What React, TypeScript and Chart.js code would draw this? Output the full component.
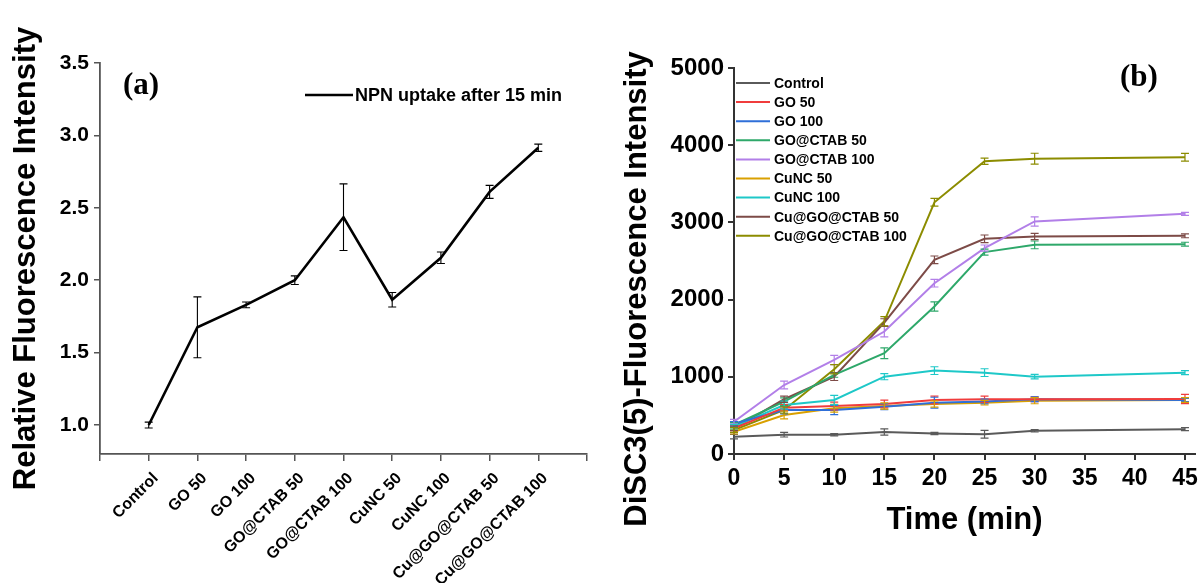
import React, { useEffect, useRef } from 'react';
import { Chart, registerables } from 'chart.js';

Chart.register(...registerables);

const SANS = '"Liberation Sans", Arial, sans-serif';
const SERIF = '"Liberation Serif", "Times New Roman", serif';

// ---------- Panel (a) data ----------
const npnCategories = ['Control', 'GO 50', 'GO 100', 'GO@CTAB 50', 'GO@CTAB 100', 'CuNC 50', 'CuNC 100', 'Cu@GO@CTAB 50', 'Cu@GO@CTAB 100'];
const npnValues = [1.0, 1.675, 1.83, 2.0, 2.435, 1.865, 2.155, 2.61, 2.915];
const npnErrors = [0.02, 0.21, 0.02, 0.03, 0.23, 0.05, 0.04, 0.045, 0.025];
const npnLabel = 'NPN uptake after 15 min';
const npnYTitle = 'Relative Fluorescence Intensity';

// ---------- Panel (b) data ----------
const timePoints = [0, 5, 10, 15, 20, 25, 30, 45];
const seriesNames = ['Control', 'GO 50', 'GO 100', 'GO@CTAB 50', 'GO@CTAB 100', 'CuNC 50', 'CuNC 100', 'Cu@GO@CTAB 50', 'Cu@GO@CTAB 100'];
const seriesColors = ['#5a5a5a', '#f03c3c', '#2f6fd8', '#2ea86a', '#b27fe8', '#d9a000', '#1ec8c8', '#7d4b47', '#8c8c00'];

const controlVals = [225, 250, 250, 285, 265, 255, 300, 322];
const controlErr = [30, 30, 15, 40, 15, 50, 15, 20];
const go50Vals = [333, 600, 622, 648, 700, 709, 709, 713];
const go50Err = [30, 40, 50, 50, 50, 40, 30, 60];
const go100Vals = [390, 570, 570, 613, 665, 680, 709, 700];
const go100Err = [30, 50, 60, 40, 70, 30, 30, 20];
const goCtab50Vals = [376, 678, 1024, 1305, 1910, 2615, 2709, 2718];
const goCtab50Err = [30, 50, 30, 70, 60, 40, 50, 25];
const goCtab100Vals = [419, 894, 1218, 1586, 2213, 2667, 3012, 3111];
const goCtab100Err = [30, 50, 60, 70, 50, 40, 60, 20];
const cuNc50Vals = [289, 505, 592, 622, 648, 665, 691, 700];
const cuNc50Err = [30, 50, 50, 40, 40, 30, 40, 30];
const cuNc100Vals = [354, 635, 700, 1002, 1080, 1054, 1002, 1054];
const cuNc100Err = [30, 50, 60, 40, 50, 50, 30, 25];
const cuGoCtab50Vals = [333, 709, 1002, 1702, 2515, 2787, 2817, 2826];
const cuGoCtab50Err = [30, 40, 50, 50, 50, 50, 40, 25];
const cuGoCtab100Vals = [311, 570, 1098, 1719, 3260, 3792, 3826, 3843];
const cuGoCtab100Err = [30, 40, 60, 60, 50, 40, 70, 50];

const seriesValues = [controlVals, go50Vals, go100Vals, goCtab50Vals, goCtab100Vals, cuNc50Vals, cuNc100Vals, cuGoCtab50Vals, cuGoCtab100Vals];
const seriesErrors = [controlErr, go50Err, go100Err, goCtab50Err, goCtab100Err, cuNc50Err, cuNc100Err, cuGoCtab50Err, cuGoCtab100Err];
const dyeYTitle = 'DiSC3(5)-Fluorescence Intensity';
const dyeXTitle = 'Time (min)';

// ---------- plugins ----------
const errorBarPlugin = {
  id: 'errorBars',
  afterDatasetsDraw(chart: any, _args: any, opts: any) {
    const ctx = chart.ctx;
    const yScale = chart.scales.y;
    chart.data.datasets.forEach((ds: any, di: number) => {
      const meta = chart.getDatasetMeta(di);
      if (!ds.errorBars) return;
      ctx.save();
      ctx.strokeStyle = ds.errorColor || ds.borderColor;
      ctx.lineWidth = opts.lineWidth || 1.2;
      const cap = opts.cap || 4;
      meta.data.forEach((pt: any, i: number) => {
        const v = ds.data[i].y;
        const e = ds.errorBars[i];
        const x = pt.x;
        const yt = yScale.getPixelForValue(v + e);
        const yb = yScale.getPixelForValue(v - e);
        ctx.beginPath();
        ctx.moveTo(x, yt);
        ctx.lineTo(x, yb);
        ctx.moveTo(x - cap, yt);
        ctx.lineTo(x + cap, yt);
        ctx.moveTo(x - cap, yb);
        ctx.lineTo(x + cap, yb);
        ctx.stroke();
      });
      ctx.restore();
    });
  },
};

const customLegendPlugin = {
  id: 'customLegend',
  afterDraw(chart: any, _args: any, opts: any) {
    const ctx = chart.ctx;
    ctx.save();
    ctx.font = `bold ${opts.fontSize}px ${SANS}`;
    ctx.textBaseline = 'middle';
    ctx.textAlign = 'left';
    chart.data.datasets.forEach((ds: any, i: number) => {
      const y = opts.y + i * opts.rowHeight;
      ctx.strokeStyle = ds.borderColor;
      ctx.lineWidth = opts.lineWidth;
      ctx.beginPath();
      ctx.moveTo(opts.x, y);
      ctx.lineTo(opts.x + opts.lineLength, y);
      ctx.stroke();
      ctx.fillStyle = '#000';
      ctx.fillText(ds.label, opts.x + opts.lineLength + opts.gap, y + 1);
    });
    ctx.restore();
  },
};

const panelLabelPlugin = {
  id: 'panelLabel',
  afterDraw(chart: any, _args: any, opts: any) {
    const ctx = chart.ctx;
    ctx.save();
    ctx.font = `bold ${opts.fontSize}px ${SERIF}`;
    ctx.fillStyle = '#000';
    ctx.textBaseline = 'alphabetic';
    ctx.textAlign = 'left';
    ctx.fillText(opts.text, opts.x, opts.y);
    ctx.restore();
  },
};

const sideTitlePlugin = {
  id: 'sideTitle',
  afterDraw(chart: any, _args: any, opts: any) {
    if (!opts || !opts.text) return;
    const ctx = chart.ctx;
    ctx.save();
    ctx.font = `bold ${opts.fontSize}px ${SANS}`;
    ctx.fillStyle = '#000';
    ctx.textBaseline = 'middle';
    ctx.textAlign = 'center';
    ctx.translate(opts.x, opts.y);
    ctx.rotate(-Math.PI / 2);
    ctx.fillText(opts.text, 0, 0);
    ctx.restore();
  },
};

function PanelA() {
  const ref = useRef<HTMLCanvasElement>(null);
  useEffect(() => {
    const axisColor = '#555';
    const chart = new Chart(ref.current as HTMLCanvasElement, {
      type: 'line',
      data: {
        datasets: [
          {
            label: npnLabel,
            data: npnValues.map((v, i) => ({ x: i + 1, y: v })),
            borderColor: '#000',
            backgroundColor: '#000',
            borderWidth: 2.6,
            pointRadius: 0,
            tension: 0,
            errorBars: npnErrors,
            errorColor: '#000',
          } as any,
        ],
      },
      options: {
        animation: false,
        responsive: false,
        layout: { padding: { top: 63, right: 13, bottom: 0, left: 0 } },
        plugins: {
          legend: { display: false },
          tooltip: { enabled: false },
          errorBars: { lineWidth: 1.1, cap: 4 },
          customLegend: { x: 305, y: 95, lineLength: 48, gap: 2, rowHeight: 20, fontSize: 18, lineWidth: 2.6 },
          panelLabel: { text: '(a)', x: 123, y: 94, fontSize: 31 },
        } as any,
        scales: {
          x: {
            type: 'linear',
            min: 0,
            max: 10,
            afterFit: (s: any) => { s.height = 129; s.paddingLeft = 0; s.paddingRight = 0; },
            ticks: {
              stepSize: 1,
              autoSkip: false,
              minRotation: 45,
              maxRotation: 45,
              padding: 8,
              labelOffset: 7,
              color: '#000',
              font: { family: SANS, size: 16, weight: 'bold' },
              callback: (v: any) => npnCategories[Number(v) - 1] ?? '',
            },
            grid: { drawOnChartArea: false, tickLength: 7, color: axisColor, lineWidth: 1.5 },
            border: { display: true, color: axisColor, width: 1.8 },
          },
          y: {
            min: 0.8,
            max: 3.5,
            afterFit: (s: any) => { s.width = 100; },
            ticks: {
              stepSize: 0.5,
              includeBounds: false,
              padding: 5,
              color: '#000',
              font: { family: SANS, size: 21, weight: 'bold' },
              callback: (v: any) => Number(v).toFixed(1),
            },
            grid: { drawOnChartArea: false, tickLength: 6, color: axisColor, lineWidth: 1.5 },
            border: { display: true, color: axisColor, width: 1.8 },
            title: {
              display: true,
              text: npnYTitle,
              color: '#000',
              font: { family: SANS, size: 31, weight: 'bold' },
              padding: { top: 8, bottom: 0 },
            },
          },
        },
      } as any,
      plugins: [errorBarPlugin, customLegendPlugin, panelLabelPlugin],
    });
    return () => chart.destroy();
  }, []);
  return (
    <canvas
      ref={ref}
      width={600}
      height={583}
      style={{ position: 'absolute', left: 0, top: 0, width: 600, height: 583, display: 'block' }}
    />
  );
}

function PanelB() {
  const ref = useRef<HTMLCanvasElement>(null);
  useEffect(() => {
    const axisColor = '#333';
    const chart = new Chart(ref.current as HTMLCanvasElement, {
      type: 'line',
      data: {
        datasets: seriesNames.map((name, si) => ({
          label: name,
          data: timePoints.map((t, i) => ({ x: t, y: seriesValues[si][i] })),
          borderColor: seriesColors[si],
          backgroundColor: seriesColors[si],
          borderWidth: 2,
          pointRadius: 0,
          tension: 0,
          errorBars: seriesErrors[si],
        })) as any,
      },
      options: {
        animation: false,
        responsive: false,
        layout: { padding: { top: 68, right: 8, bottom: 0, left: 0 } },
        plugins: {
          legend: { display: false },
          tooltip: { enabled: false },
          errorBars: { lineWidth: 1.2, cap: 4 },
          customLegend: { x: 136, y: 83, lineLength: 34, gap: 4, rowHeight: 19.1, fontSize: 14, lineWidth: 2 },
          panelLabel: { text: '(b)', x: 520, y: 86, fontSize: 31 },
          sideTitle: { text: dyeYTitle, x: 37, y: 289, fontSize: 31 },
        } as any,
        scales: {
          x: {
            type: 'linear',
            min: 0,
            max: 46,
            afterFit: (s: any) => { s.height = 129; },
            ticks: {
              stepSize: 5,
              includeBounds: false,
              padding: 5,
              color: '#000',
              font: { family: SANS, size: 23, weight: 'bold' },
              callback: (v: any) => String(v),
            },
            grid: { drawOnChartArea: false, tickLength: 6, color: axisColor, lineWidth: 2 },
            border: { display: true, color: axisColor, width: 2 },
            title: {
              display: true,
              text: dyeXTitle,
              color: '#000',
              font: { family: SANS, size: 31, weight: 'bold' },
              padding: { top: 0, bottom: 44 },
            },
          },
          y: {
            min: 0,
            max: 5000,
            afterFit: (s: any) => { s.width = 134; },
            ticks: {
              stepSize: 1000,
              padding: 4,
              color: '#000',
              font: { family: SANS, size: 24, weight: 'bold' },
              callback: (v: any) => String(v),
            },
            grid: { drawOnChartArea: false, tickLength: 6, color: axisColor, lineWidth: 2 },
            border: { display: true, color: axisColor, width: 2 },
          },
        },
      } as any,
      plugins: [errorBarPlugin, customLegendPlugin, panelLabelPlugin, sideTitlePlugin],
    });
    return () => chart.destroy();
  }, []);
  return (
    <canvas
      ref={ref}
      width={603}
      height={583}
      style={{ position: 'absolute', left: 600, top: 0, width: 603, height: 583, display: 'block' }}
    />
  );
}

export default function App() {
  return (
    <div style={{ position: 'absolute', left: 0, top: 0, width: 1203, height: 583, background: '#fff', overflow: 'hidden' }}>
      <PanelA />
      <PanelB />
    </div>
  );
}
